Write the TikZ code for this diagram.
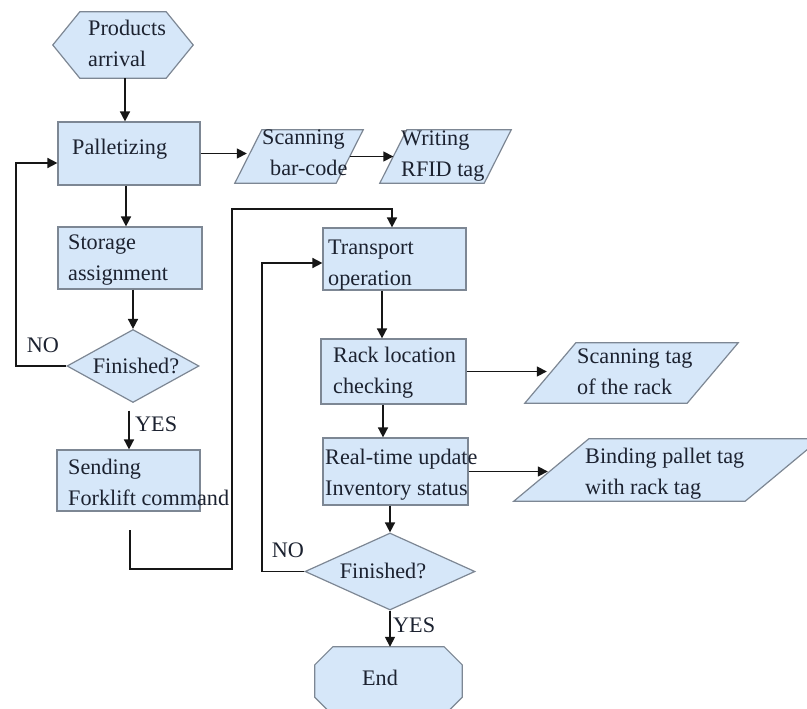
\documentclass[tikz,border=0pt]{standalone}
\usepackage{fontspec}
\setmainfont{Liberation Serif}
\usetikzlibrary{shapes.geometric,arrows.meta,calc}
\definecolor{boxfill}{RGB}{214,231,249}
\definecolor{boxline}{RGB}{125,135,148}
\definecolor{txtcol}{RGB}{28,34,48}
\definecolor{linecol}{RGB}{22,22,22}
\begin{document}
\begin{tikzpicture}[x=1pt,y=-1pt,
  shp/.style={draw=boxline,fill=boxfill,line width=1.2pt},
  procbox/.style={shp,rectangle,inner sep=0pt},
  decbox/.style={shp,diamond,inner sep=0pt},
  ghost/.style={rectangle,inner sep=0pt},
  lbl/.style={inner sep=0pt,text=txtcol,font=\fontsize{22.2}{31}\selectfont,align=left},
  arr/.style={draw=linecol,line width=1.6pt,-{Triangle[length=10pt,width=10pt]}},
]
\useasboundingbox (0,0) rectangle (807,709);
\clip (0,0) rectangle (807,709);
\fill[white] (0,0) rectangle (807,709);

% ---------- shapes ----------
\node[ghost,minimum width=140pt,minimum height=66pt] (hex) at (123,45) {};
\draw[shp] (hex.west) -- ($(hex.north west)+(27,0)$) -- ($(hex.north east)+(-27,0)$)
  -- (hex.east) -- ($(hex.south east)+(-27,0)$) -- ($(hex.south west)+(27,0)$) -- cycle;

\node[procbox,minimum width=142pt,minimum height=63pt] (pal) at (129,153.5) {};
\node[procbox,minimum width=144pt,minimum height=62pt] (stor) at (130,258) {};
\node[decbox,minimum width=132pt,minimum height=73pt] (d1) at (133,366) {};
\node[procbox,minimum width=143pt,minimum height=61pt] (send) at (128.5,480.5) {};

\node[ghost,minimum width=128pt,minimum height=53pt] (scan) at (299,156.5) {};
\draw[shp] (scan.south west) -- ($(scan.north west)+(27,0)$) -- (scan.north east) -- ($(scan.south east)+(-27,0)$) -- cycle;
\node[ghost,minimum width=131pt,minimum height=53pt] (write) at (445.5,156.5) {};
\draw[shp] (write.south west) -- ($(write.north west)+(27,0)$) -- (write.north east) -- ($(write.south east)+(-27,0)$) -- cycle;

\node[procbox,minimum width=143pt,minimum height=62pt] (trans) at (394.5,259) {};
\node[procbox,minimum width=145pt,minimum height=65pt] (rack) at (393.5,371.5) {};
\node[procbox,minimum width=145pt,minimum height=67pt] (real) at (395.5,471.5) {};
\node[decbox,minimum width=170pt,minimum height=77pt] (d2) at (390,571.5) {};

\node[ghost,minimum width=213pt,minimum height=60pt] (tag) at (631.5,373) {};
\draw[shp] (tag.south west) -- ($(tag.north west)+(51,0)$) -- (tag.north east) -- ($(tag.south east)+(-51,0)$) -- cycle;
\node[ghost,minimum width=306pt,minimum height=62pt] (bind) at (667,470) {};
\draw[shp] (bind.south west) -- ($(bind.north west)+(75,0)$) -- (bind.north east) -- ($(bind.south east)+(-75,0)$) -- cycle;

\node[ghost,minimum width=147pt,minimum height=68pt] (endn) at (388.5,681) {};
\draw[shp] ($(endn.north west)+(0,18)$) -- ($(endn.north west)+(18,0)$)
  -- ($(endn.north east)+(-18,0)$) -- ($(endn.north east)+(0,18)$)
  -- ($(endn.south east)+(0,-18)$) -- ($(endn.south east)+(-18,0)$)
  -- ($(endn.south west)+(18,0)$) -- ($(endn.south west)+(0,-18)$) -- cycle;

% ---------- texts ----------
\node[lbl,anchor=north west] (tHex) at (88,20) {Products\\arrival};
\node[lbl,anchor=north west] (tPal) at (72,139) {Palletizing};
\node[lbl,anchor=north west] (tStor) at (68,235) {Storage\\assignment};
\node[lbl] (tD1) at (136,366) {Finished?};
\node[lbl,anchor=north west] (tSend) at (68,459) {Sending\\Forklift command};
\node[lbl,anchor=north west] (tScan) at (262,130) {Scanning\\\hspace*{8pt}bar-code};
\node[lbl,anchor=north west] (tWrite) at (401,130.5) {Writing\\RFID tag};
\node[lbl,anchor=north west] (tTrans) at (328,240) {Transport\\operation};
\node[lbl,anchor=north west] (tRack) at (333,347) {Rack location\\checking};
\node[lbl,anchor=north west] (tReal) at (325,449) {Real-time update\\Inventory status};
\node[lbl] (tD2) at (383,571) {Finished?};
\node[lbl,anchor=north west] (tTag) at (577,348.5) {Scanning tag\\of the rack};
\node[lbl,anchor=north west] (tBind) at (585,448) {Binding pallet tag\\with rack tag};
\node[lbl] (tEnd) at (380,678) {End};

\node[lbl,anchor=west] (yes1) at (135,424) {YES};
\node[lbl] (no1) at (43,345) {NO};
\node[lbl,anchor=west] (yes2) at (393,625) {YES};
\node[lbl] (no2) at (288,550) {NO};

% ---------- connectors ----------
\coordinate (lp1) at (16,366);
\coordinate (sg1) at (130,530);
\coordinate (sg2) at (232,569);
\coordinate (sg3) at (232,209);
\coordinate (lp2) at (262,571.5);

\draw[arr] ($(hex.south)+(2,0)$) -- ($(pal.north)+(-4,0)$);
\draw[arr] ($(pal.south)+(-3,0)$) -- ($(stor.north)+(-4,0)$);
\draw[arr] ($(stor.south)+(3,0)$) -- (d1.north);
\draw[arr] ($(d1.south)+(-4,7.5)$) -- ($(send.north)+(0.5,0)$);
\draw[arr] (d1.west) -- (lp1) |- ($(pal.west)+(0,9.5)$);
\draw[arr] (pal.east) -- ($(pal.east -| scan.west)+(12,0)$);
\draw[arr] ($(scan.east)+(-13.5,0)$) -- ($(write.west)+(13.5,0)$);
\draw[arr] (sg1) |- (sg2) -- (sg3) -| ($(trans.north)+(-2.5,0)$);
\draw[arr] (d2.west) -- (lp2) |- ($(trans.west)+(0,4)$);
\draw[arr] ($(trans.south)+(-12.5,0)$) -- ($(rack.north)+(-11.5,0)$);
\draw[arr] ($(rack.south)+(-10.5,0)$) -- ($(real.north)+(-12.5,0)$);
\draw[arr] (rack.east) -- ($(rack.east -| tag.west)+(22,0)$);
\draw[arr] (real.east) -- ($(real.east -| bind.west)+(34,0)$);
\draw[arr] ($(real.south)+(-5.5,0)$) -- (d2.north);
\draw[arr] (d2.south) -- ($(endn.north)+(1.5,0)$);
\end{tikzpicture}
\end{document}
